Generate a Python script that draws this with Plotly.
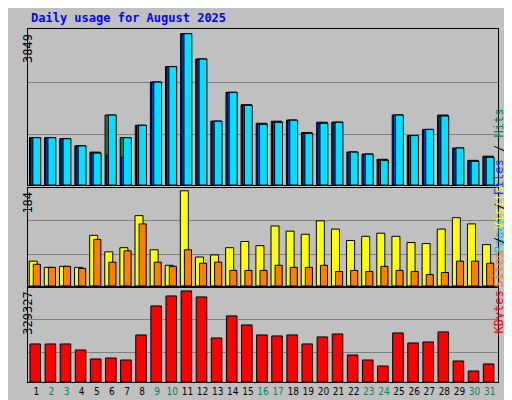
import plotly.graph_objects as go

days = list(range(1, 32))
weekend = [2, 3, 9, 10, 16, 17, 23, 24, 30, 31]

hits = [1204, 1204, 1178, 995, 838, 1780, 1204, 1519, 2618, 3011, 3849, 3203, 1623, 2357, 2042, 1571,
        1623, 1650, 1335, 1597, 1597, 838, 786, 655, 1780, 1257, 1414, 1780, 943, 628, 733]
files = [1204, 1204, 1178, 995, 812, 759, 708, 1519, 2618, 3011, 3849, 3203, 1623, 2357, 2025, 1545,
         1597, 1650, 1309, 1571, 1597, 838, 786, 628, 1780, 1257, 1414, 1755, 917, 602, 707]
pages = [1204, 1204, 1178, 995, 812, 1780, 1204, 1519, 2618, 3011, 3849, 3203, 1623, 2357, 2025, 1545,
         1597, 1650, 1309, 1571, 1597, 838, 786, 628, 1780, 1257, 1414, 1755, 943, 602, 707]
visits = [48, 36, 38, 36, 98, 66, 74, 136, 70, 40, 184, 56, 60, 74, 86, 78,
          116, 106, 100, 126, 110, 88, 96, 102, 96, 84, 82, 110, 132, 120, 80]
sites = [42, 36, 38, 34, 90, 46, 68, 120, 46, 38, 70, 44, 46, 30, 30, 30,
         40, 36, 36, 40, 28, 30, 28, 38, 30, 28, 22, 26, 48, 48, 44]
kbytes = [137520, 137520, 137520, 115800, 83240, 86860, 79620, 170090, 275040, 311230, 329327, 307610,
          159230, 238850, 206280, 170090, 166470, 170090, 137520, 162850, 173710, 97710, 79620, 57900,
          177330, 141140, 144760, 180950, 76000, 39810, 65140]

line = dict(color="black", width=1)
fig = go.Figure()
fig.add_trace(go.Bar(x=days, y=hits, marker=dict(color="#00805C", line=line), width=0.7, offset=-0.45, yaxis="y"))
fig.add_trace(go.Bar(x=days, y=files, marker=dict(color="#0040FF", line=line), width=0.62, offset=-0.37, yaxis="y"))
fig.add_trace(go.Bar(x=days, y=pages, marker=dict(color="#00E0FF", line=line), width=0.52, offset=-0.23, yaxis="y"))
fig.add_trace(go.Bar(x=days, y=visits, marker=dict(color="#FFFF00", line=line), width=0.53, offset=-0.47, xaxis="x2", yaxis="y2"))
fig.add_trace(go.Bar(x=days, y=sites, marker=dict(color="#FF8000", line=line), width=0.47, offset=-0.2, xaxis="x2", yaxis="y2"))
fig.add_trace(go.Bar(x=days, y=kbytes, marker=dict(color="#FF0000", line=line), width=0.7, offset=-0.42, xaxis="x3", yaxis="y3"))

ticktext = ["<span style='color:%s'>%d</span>" % ("#00805C" if d in weekend else "black", d) for d in days]
xa = dict(range=[0.45, 31.55], showgrid=False, zeroline=False, showline=True, linecolor="black", mirror=True, fixedrange=True)
ya = dict(showline=True, linecolor="black", mirror=True, zeroline=False, showticklabels=False,
          gridcolor="#808080", gridwidth=1, ticks="")

fig.update_layout(
    width=512, height=400, showlegend=False, barmode="overlay",
    paper_bgcolor="#C0C0C0", plot_bgcolor="#C0C0C0",
    margin=dict(l=20, r=22, t=21, b=26),
    font=dict(family="DejaVu Sans Mono", size=12, color="black"),
    xaxis=dict(xa, anchor="y", showticklabels=False),
    xaxis2=dict(xa, anchor="y2", showticklabels=False),
    xaxis3=dict(xa, anchor="y3", tickvals=days, ticktext=ticktext, ticks="", tickangle=0,
                tickfont=dict(size=10, family="Liberation Sans Narrow, DejaVu Sans Condensed")),
    yaxis=dict(ya, domain=[0.558, 1], range=[0, 3849 / 0.97], tickvals=[1292, 2618]),
    yaxis2=dict(ya, domain=[0.272, 0.55], range=[0, 184 / 0.97], tickvals=[60, 126]),
    yaxis3=dict(ya, domain=[0, 0.266], range=[0, 329327 / 0.97], tickvals=[104950, 224380]),
)

ann = [
    dict(x=0.003, y=1.0, text="<b>Daily usage for August 2025</b>", xref="paper", yref="paper",
         xanchor="left", yanchor="bottom", yshift=2, showarrow=False, font=dict(color="#0000FF", size=12)),
    dict(x=0, y=0.99, text="3849", xref="paper", yref="paper", textangle=-90, xshift=-9,
         yanchor="top", showarrow=False, font=dict(size=12)),
    dict(x=0, y=0.545, text="184", xref="paper", yref="paper", textangle=-90, xshift=-9,
         yanchor="top", showarrow=False, font=dict(size=12)),
    dict(x=0, y=0.26, text="329327", xref="paper", yref="paper", textangle=-90, xshift=-9,
         yanchor="top", showarrow=False, font=dict(size=12)),
    dict(x=1, y=0.78, xshift=10, text="<span style='color:#00C8E8'>Pages</span> / <span style='color:#0040FF'>Files</span> / <span style='color:#00805C'>Hits</span>",
         xref="paper", yref="paper", textangle=-90, showarrow=False, font=dict(size=12)),
    dict(x=1, y=0.41, xshift=10, text="<span style='color:#FF8000'>Sites</span> / <span style='color:#FFFF00'>Visits</span>",
         xref="paper", yref="paper", textangle=-90, showarrow=False, font=dict(size=12)),
    dict(x=1, y=0.13, xshift=10, text="<span style='color:#FF0000'>KBytes</span>", xref="paper", yref="paper",
         textangle=-90, showarrow=False, font=dict(size=12)),
]
fig.update_layout(annotations=ann)

fig.write_html("out.html")
